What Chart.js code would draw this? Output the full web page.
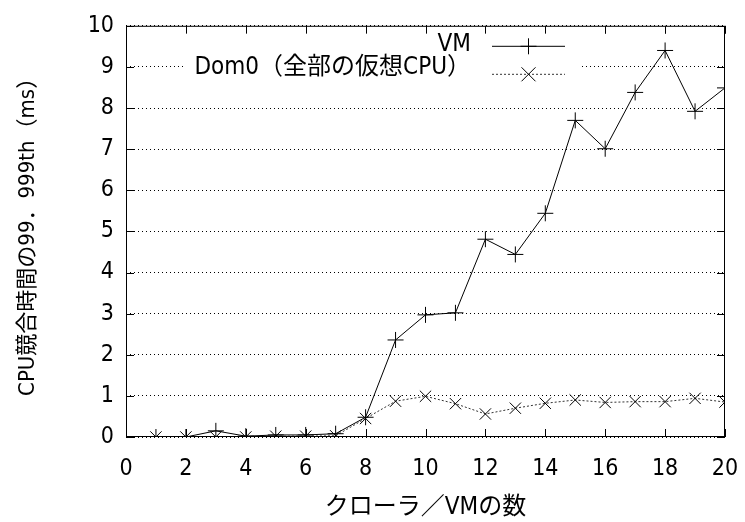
<!DOCTYPE html>
<html>
<head>
<meta charset="utf-8">
<script src="https://cdn.jsdelivr.net/npm/chart.js@4"></script>
<style>
  html, body { margin: 0; padding: 0; background: #fff; }
  #wrap { width: 745px; height: 522px; }
</style>
</head>
<body>
<div id="wrap"><canvas id="cpuChart"></canvas></div>
<script>
const crawlers = [1, 2, 3, 4, 5, 6, 7, 8, 9, 10, 11, 12, 13, 14, 15, 16, 17, 18, 19, 20];
const vmValues = [0, 0, 0.15, 0.02, 0.05, 0.05, 0.08, 0.48, 2.36, 2.97, 3.02, 4.81, 4.44, 5.44, 7.70, 7.01, 8.38, 9.40, 7.92, 8.49];
const dom0Values = [0, 0, 0, 0, 0.02, 0.02, 0.03, 0.45, 0.87, 0.99, 0.81, 0.56, 0.70, 0.82, 0.90, 0.84, 0.86, 0.86, 0.94, 0.85];
const seriesNames = ['VM', 'Dom0（全部の仮想CPU）'];

const FONT = '"Liberation Sans Narrow", "DejaVu Sans Condensed", "Noto Sans CJK JP", sans-serif';
const toPoints = vals => crawlers.map((x, i) => ({ x: x, y: vals[i] }));

// gnuplot style: inward ticks on all four sides + opaque key box
const gnuplotBits = {
    id: 'gnuplotBits',
    afterDraw(chart) {
        const c = chart.ctx, a = chart.chartArea;
        const xs = chart.scales.x, ys = chart.scales.y;
        c.save();
        c.strokeStyle = '#000';
        c.lineWidth = 1;
        c.beginPath();
        xs.ticks.forEach(t => {
            const px = Math.round(xs.getPixelForValue(t.value)) + 0.5;
            c.moveTo(px, a.bottom); c.lineTo(px, a.bottom - 8);
            c.moveTo(px, a.top); c.lineTo(px, a.top + 8);
        });
        ys.ticks.forEach(t => {
            const py = Math.round(ys.getPixelForValue(t.value)) + 0.5;
            c.moveTo(a.left, py); c.lineTo(a.left + 8, py);
            c.moveTo(a.right, py); c.lineTo(a.right - 8, py);
        });
        c.stroke();
        c.strokeRect(a.left + 0.5, a.top + 0.5, a.right - a.left - 1, a.bottom - a.top - 1);

        // key
        const textRight = a.left + 345;
        const rows = [a.top + 19, a.top + 42];
        c.fillStyle = '#fff';
        c.fillRect(a.left + 60, a.top + 8, 394, 48);
        c.fillStyle = '#000';
        c.font = '24px ' + FONT;
        c.textAlign = 'right';
        c.textBaseline = 'middle';
        seriesNames.forEach((n, i) => c.fillText(n, textRight, rows[i]));
        chart.data.datasets.forEach((ds, i) => {
            const y = rows[i] + (i === 1 ? 6 : 1) + 0.5;
            const x0 = textRight + 21, x1 = textRight + 94, xm = (x0 + x1) / 2;
            c.strokeStyle = ds.borderColor;
            c.lineWidth = 1;
            c.setLineDash(ds.borderDash || []);
            c.beginPath(); c.moveTo(x0, y); c.lineTo(x1, y); c.stroke();
            c.setLineDash([]);
            c.strokeStyle = '#000';
            c.beginPath();
            if (ds.pointStyle === 'cross') {
                c.moveTo(xm - 8, y); c.lineTo(xm + 8, y);
                c.moveTo(xm, y - 8); c.lineTo(xm, y + 8);
            } else {
                c.moveTo(xm - 7, y - 7); c.lineTo(xm + 7, y + 7);
                c.moveTo(xm - 7, y + 7); c.lineTo(xm + 7, y - 7);
            }
            c.stroke();
        });
        c.restore();
    }
};

new Chart(document.getElementById('cpuChart'), {
    type: 'line',
    data: {
        datasets: [{
            label: seriesNames[0],
            data: toPoints(vmValues),
            borderColor: '#000',
            borderWidth: 1,
            pointStyle: 'cross',
            pointRadius: 8,
            pointBorderColor: '#000',
            pointBorderWidth: 1,
            fill: false,
            tension: 0
        }, {
            label: seriesNames[1],
            data: toPoints(dom0Values),
            borderColor: '#333',
            borderWidth: 1,
            borderDash: [2, 2],
            pointStyle: 'crossRot',
            pointRadius: 8,
            pointBorderColor: '#000',
            pointBorderWidth: 1,
            fill: false,
            tension: 0
        }]
    },
    options: {
        responsive: true,
        maintainAspectRatio: false,
        animation: false,
        layout: { padding: { top: 23, right: 20, left: 0, bottom: 0 } },
        scales: {
            x: {
                type: 'linear',
                min: 0, max: 20,
                afterFit: s => { s.height = 85; s.paddingLeft = 0; s.paddingRight = 0; },
                ticks: { stepSize: 2, color: '#000', font: { family: FONT, size: 23 }, padding: 18, maxRotation: 0 },
                grid: { display: false, drawTicks: false },
                border: { display: false },
                title: { display: true, text: 'クローラ／VMの数', color: '#000', font: { family: FONT, size: 24 }, padding: { top: 0, bottom: 0 } }
            },
            y: {
                min: 0, max: 10,
                afterFit: s => { s.width = 126; },
                ticks: { stepSize: 1, color: '#000', font: { family: FONT, size: 23 }, padding: 12 },
                grid: { color: '#000', lineWidth: 1, drawTicks: false },
                border: { display: false, dash: [1, 3] },
                title: { display: true, text: 'CPU競合時間の99．999th（ms）', color: '#000', font: { family: FONT, size: 22 }, padding: { top: 15, bottom: 0 } }
            }
        },
        plugins: {
            legend: { display: false },
            tooltip: { enabled: false }
        }
    },
    plugins: [gnuplotBits]
});
</script>
</body>
</html>
